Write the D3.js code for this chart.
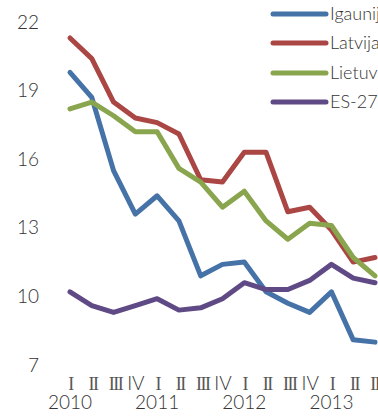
<!DOCTYPE html>
<html>
<head>
<meta charset="utf-8">
<script src="https://cdn.jsdelivr.net/npm/d3@7"></script>
<style>
  html, body { margin: 0; padding: 0; background: #fff; }
  svg { display: block; }
</style>
</head>
<body>
<svg id="chart" width="378" height="419"></svg>
<script>
// Quarterly series 2010 Q1 – 2013 Q3
const quarters = ["I", "II", "III", "IV", "I", "II", "III", "IV", "I", "II", "III", "IV", "I", "II", "III"];
const years = ["2010", "2011", "2012", "2013"];
const seriesNames = ["Igaunija", "Latvija", "Lietuva", "ES-27"];
const igaunija = [19.8, 18.7, 15.5, 13.6, 14.4, 13.3, 10.9, 11.4, 11.5, 10.2, 9.7, 9.3, 10.2, 8.1, 8.0];
const latvija  = [21.3, 20.4, 18.5, 17.8, 17.6, 17.1, 15.1, 15.0, 16.3, 16.3, 13.7, 13.9, 12.9, 11.5, 11.7];
const lietuva  = [18.2, 18.5, 17.9, 17.2, 17.2, 15.6, 15.0, 13.9, 14.6, 13.3, 12.5, 13.2, 13.1, 11.7, 10.9];
const es27     = [10.2, 9.6, 9.3, 9.6, 9.9, 9.4, 9.5, 9.9, 10.6, 10.3, 10.3, 10.7, 11.4, 10.8, 10.6];
const yTicks = [7, 10, 13, 16, 19, 22];
const colors = ["#4572A7", "#AA4643", "#89A54E", "#5F4A86"];

const series = [igaunija, latvija, lietuva, es27];
const svg = d3.select("#chart");
const sansFont = "Lato, 'Open Sans', sans-serif";
const serifFont = "'Liberation Serif', 'DejaVu Serif', serif";

const x = d3.scaleLinear().domain([0, quarters.length - 1]).range([70, 375]);
const y = d3.scaleLinear().domain([7, 22]).range([365, 22]);

// y axis labels (no axis line)
const yAxis = d3.axisLeft(y).tickValues(yTicks).tickSize(0).tickPadding(0);
const gy = svg.append("g").attr("transform", "translate(39,0)").call(yAxis);
gy.select(".domain").remove();
gy.selectAll("text")
  .attr("font-family", sansFont)
  .attr("font-weight", 300)
  .attr("font-size", 19)
  .attr("fill", "#333");

// quarter labels: serif numerals, IV set in the sans face
const xAxis = d3.axisBottom(x).tickValues(d3.range(quarters.length)).tickSize(0).tickPadding(0)
  .tickFormat(i => quarters[i]);
const gx = svg.append("g").call(xAxis);
gx.select(".domain").remove();
gx.selectAll("text")
  .attr("y", 390)
  .attr("dy", null)
  .attr("font-family", i => quarters[i] === "IV" ? sansFont : serifFont)
  .attr("font-weight", i => quarters[i] === "IV" ? 300 : 400)
  .attr("font-size", i => quarters[i] === "IV" ? 19 : 18)
  .attr("letter-spacing", i => quarters[i] === "IV" ? null : "-1.5px")
  .attr("dx", i => quarters[i] === "IV" ? null : (quarters[i].length - 1) * 0.75)
  .attr("fill", i => quarters[i] === "IV" ? "#333" : "#555");

// year labels under the first quarter of each year
svg.append("g").selectAll("text")
  .data(years)
  .join("text")
  .attr("x", (d, i) => x(i * 4))
  .attr("y", 409)
  .attr("text-anchor", "middle")
  .attr("font-family", sansFont)
  .attr("font-weight", 300)
  .attr("font-size", 19)
  .attr("fill", "#333")
  .text(d => d);

// lines
const line = d3.line().x((d, i) => x(i)).y(d => y(d));
svg.append("g").selectAll("path")
  .data(series)
  .join("path")
  .attr("d", line)
  .attr("fill", "none")
  .attr("stroke", (d, i) => colors[i])
  .attr("stroke-width", 5)
  .attr("stroke-linejoin", "round")
  .attr("stroke-linecap", "round");

// legend
const legendY = [14, 43, 73, 102];
const lg = svg.append("g").selectAll("g")
  .data(seriesNames)
  .join("g")
  .attr("transform", (d, i) => `translate(0,${legendY[i]})`);
lg.append("line")
  .attr("x1", 273).attr("x2", 326)
  .attr("stroke", (d, i) => colors[i])
  .attr("stroke-width", 5)
  .attr("stroke-linecap", "round");
lg.append("text")
  .attr("x", 330)
  .attr("dy", "0.36em")
  .attr("font-family", sansFont)
  .attr("font-weight", 300)
  .attr("font-size", 18)
  .attr("fill", "#333")
  .text(d => d);
</script>
</body>
</html>
